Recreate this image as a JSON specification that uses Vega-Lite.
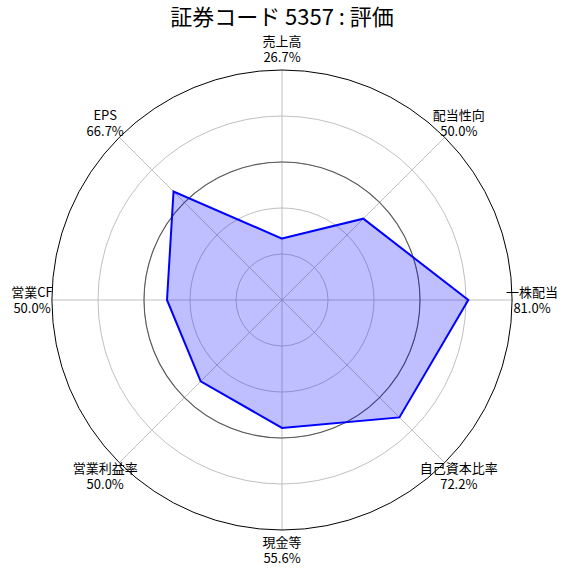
{
  "$schema": "https://vega.github.io/schema/vega-lite/v6.json",
  "width": 460,
  "height": 460,
  "autosize": {"type": "none"},
  "padding": {"left": 52, "top": 70, "right": 67, "bottom": 50},
  "title": {
    "text": "証券コード 5357 : 評価",
    "font": "Noto Sans CJK JP",
    "fontSize": 22,
    "fontWeight": "normal",
    "color": "#000000",
    "anchor": "middle",
    "offset": 6
  },
  "config": {
    "view": {"stroke": null},
    "font": "Noto Sans CJK JP"
  },
  "datasets": {
    "scores": [
      {"i": 0, "axis": "売上高", "value": 26.7},
      {"i": 1, "axis": "配当性向", "value": 50.0},
      {"i": 2, "axis": "一株配当", "value": 81.0},
      {"i": 3, "axis": "自己資本比率", "value": 72.2},
      {"i": 4, "axis": "現金等", "value": 55.6},
      {"i": 5, "axis": "営業利益率", "value": 50.0},
      {"i": 6, "axis": "営業CF", "value": 50.0},
      {"i": 7, "axis": "EPS", "value": 66.7}
    ],
    "spokes": [
      {"i": 0, "r": 0}, {"i": 0, "r": 100},
      {"i": 1, "r": 0}, {"i": 1, "r": 100},
      {"i": 2, "r": 0}, {"i": 2, "r": 100},
      {"i": 3, "r": 0}, {"i": 3, "r": 100},
      {"i": 4, "r": 0}, {"i": 4, "r": 100},
      {"i": 5, "r": 0}, {"i": 5, "r": 100},
      {"i": 6, "r": 0}, {"i": 6, "r": 100},
      {"i": 7, "r": 0}, {"i": 7, "r": 100}
    ],
    "rings": [
      {"r": 20, "kind": "grid"},
      {"r": 40, "kind": "grid"},
      {"r": 60, "kind": "grid"},
      {"r": 80, "kind": "grid"},
      {"r": 60, "kind": "ref"},
      {"r": 100, "kind": "outer"}
    ]
  },
  "layer": [
    {
      "data": {"name": "rings"},
      "transform": [{"filter": "datum.kind === 'grid'"}],
      "mark": {"type": "arc", "filled": false, "stroke": "#b0b0b0", "strokeWidth": 0.8},
      "encoding": {
        "radius": {"field": "r", "type": "quantitative", "stack": null, "scale": {"type": "linear", "domain": [0, 100], "range": [0, 230], "zero": true}, "legend": null}
      }
    },
    {
      "data": {"name": "spokes"},
      "transform": [
        {"calculate": "datum.i * PI / 4", "as": "ang"},
        {"calculate": "datum.r * sin(datum.ang)", "as": "sx"},
        {"calculate": "datum.r * cos(datum.ang)", "as": "sy"}
      ],
      "mark": {"type": "line", "stroke": "#b0b0b0", "strokeWidth": 0.8},
      "encoding": {
        "x": {"field": "sx", "type": "quantitative", "scale": {"domain": [-100, 100], "nice": false, "zero": false}, "axis": null},
        "y": {"field": "sy", "type": "quantitative", "scale": {"domain": [-100, 100], "nice": false, "zero": false}, "axis": null},
        "detail": {"field": "i", "type": "nominal"},
        "order": {"field": "r", "type": "quantitative"}
      }
    },
    {
      "data": {"name": "rings"},
      "transform": [{"filter": "datum.kind === 'ref'"}],
      "mark": {"type": "arc", "filled": false, "stroke": "#5a5a5a", "strokeWidth": 1.1},
      "encoding": {
        "radius": {"field": "r", "type": "quantitative", "stack": null}
      }
    },
    {
      "data": {"name": "scores"},
      "transform": [
        {"calculate": "datum.i * PI / 4", "as": "ang"},
        {"calculate": "datum.value * sin(datum.ang)", "as": "px"},
        {"calculate": "datum.value * cos(datum.ang)", "as": "py"}
      ],
      "mark": {"type": "line", "interpolate": "linear-closed", "fill": "#0000ff", "fillOpacity": 0.25, "stroke": "#0000ff", "strokeWidth": 2},
      "encoding": {
        "x": {"field": "px", "type": "quantitative", "axis": null},
        "y": {"field": "py", "type": "quantitative", "axis": null},
        "order": {"field": "i", "type": "quantitative"}
      }
    },
    {
      "data": {"name": "rings"},
      "transform": [{"filter": "datum.kind === 'outer'"}],
      "mark": {"type": "arc", "filled": false, "stroke": "#000000", "strokeWidth": 1},
      "encoding": {
        "radius": {"field": "r", "type": "quantitative", "stack": null}
      }
    },
    {
      "data": {"name": "scores"},
      "transform": [
        {"calculate": "datum.i * PI / 4", "as": "ang"},
        {"calculate": "108.7 * sin(datum.ang)", "as": "lx"},
        {"calculate": "108.7 * cos(datum.ang)", "as": "ly"},
        {"calculate": "datum.axis + '\\n' + format(datum.value, '.1f') + '%'", "as": "label"}
      ],
      "mark": {"type": "text", "align": "center", "baseline": "middle", "dy": -7.5, "lineBreak": "\n", "lineHeight": 16, "fontSize": 13, "font": "Noto Sans CJK JP", "color": "#000000"},
      "encoding": {
        "x": {"field": "lx", "type": "quantitative", "axis": null},
        "y": {"field": "ly", "type": "quantitative", "axis": null},
        "text": {"field": "label", "type": "nominal"}
      }
    }
  ]
}
